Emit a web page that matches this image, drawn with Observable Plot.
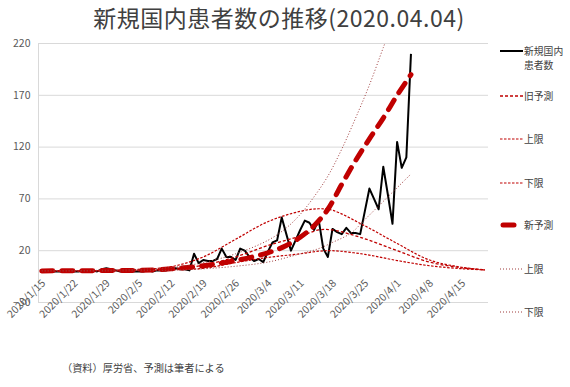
<!DOCTYPE html>
<html><head><meta charset="utf-8">
<script src="https://cdn.jsdelivr.net/npm/d3@7"></script>
<script src="https://cdn.jsdelivr.net/npm/@observablehq/plot@0.6"></script>
<style>
body{margin:0;background:#fff;font-family:"Noto Sans CJK JP","Noto Sans",sans-serif;}
#wrap{position:relative;width:570px;height:387px;overflow:hidden;background:#fff;}
#chart{position:absolute;left:0;top:0;}
#title{position:absolute;left:0;top:3px;width:558px;text-align:center;font-size:23px;letter-spacing:0.5px;line-height:28px;color:#404040;white-space:nowrap;}
#note{position:absolute;left:62px;top:362px;font-size:10.2px;line-height:12px;color:#404040;white-space:nowrap;}
.lg{position:absolute;left:500px;height:12px;}
.lgt{position:absolute;left:524px;font-size:9.8px;line-height:14px;color:#404040;white-space:nowrap;}
</style></head><body>
<div id="wrap"><div id="chart"></div><div id="title">新規国内患者数の推移(2020.04.04)</div><div id="legend"></div><div id="note">（資料）厚労省、予測は筆者による</div></div>
<script>
// ---- data ----
const titleText = "新規国内患者数の推移(2020.04.04)";
const yTicks = [-30, 20, 70, 120, 170, 220];
const xTickLabels = ["2020-01-15","2020-01-22","2020-01-29","2020-02-05","2020-02-12","2020-02-19","2020-02-26","2020-03-04","2020-03-11","2020-03-18","2020-03-25","2020-04-01","2020-04-08","2020-04-15"];
const legendLabels = ["新規国内\n患者数","旧予測","上限","下限","新予測","上限","下限"];

// actual daily new domestic cases, from 2020-01-15 to 2020-04-04
const actualStart = "2020-01-15";
const actualValues = [
 1,0,0,0,0,0,0,0,0,1, 1,1,0,2,3,2,1,0,0,1,
 0,0,0,1,0,1,1,1,2,3, 2,2,1,17,8,11,10,10,12,22,
 14,14,11,22,20,14,10,12,9,19, 28,30,52,36,20,30,40,49,47,40,
 50,22,14,41,38,36,42,37,37,36, 58,80,70,60,101,74,46,125,100,110,
 210];

// old forecast (旧予測) and its bounds
const oldDates = ["2020-01-15","2020-01-29","2020-02-05","2020-02-12","2020-02-19","2020-02-26","2020-03-04","2020-03-11","2020-03-15","2020-03-18","2020-03-25","2020-04-01","2020-04-08","2020-04-15","2020-04-20"];
const oldMid   = [0.5,0.8,1.2,2.5,6,14,25,34,40,40,31.5,20,9,3.5,1.5];
const oldUpper = [0.5,1,2,4.5,14,31,48,58,60.5,59,44,27,11,4,1.5];
const oldLower = [0.3,0.5,0.8,1.5,3,8.5,13.5,17,19.5,20,16.5,10.5,5.5,2.6,1.5];

// new forecast (新予測)
const newDates = ["2020-01-15","2020-01-22","2020-01-29","2020-02-05","2020-02-12","2020-02-19","2020-02-26","2020-03-04","2020-03-08","2020-03-11","2020-03-14","2020-03-17","2020-03-20","2020-03-23","2020-03-26","2020-03-29","2020-04-01","2020-04-04"];
const newMid = [0.5,0.6,0.8,1,2.5,5.5,10.5,18,25,33,44,60,84,107,128,148,170,190];
// new forecast upper bound
const newUpperDates = ["2020-01-15","2020-01-29","2020-02-12","2020-02-19","2020-02-26","2020-03-04","2020-03-08","2020-03-11","2020-03-14","2020-03-17","2020-03-20","2020-03-23","2020-03-26","2020-03-29","2020-03-31"];
const newUpper = [0.7,1.2,3.8,8.5,17,30,42,55,72,92,118,148,180,216,240];
// new forecast lower bound
const newLowerDates = ["2020-01-15","2020-01-29","2020-02-12","2020-02-19","2020-02-26","2020-03-04","2020-03-11","2020-03-15","2020-03-18","2020-03-22","2020-03-25","2020-03-30","2020-04-04"];
const newLower = [0.3,0.4,1.2,2.5,5,9,17,22,28,37,50,72,94];

// ---- build ----
const DAY = 864e5;
const parse = s => new Date(s + "T00:00:00Z");
const t0 = +parse(actualStart);
const actual = actualValues.map((v, i) => ({date: new Date(t0 + i * DAY), value: v}));
const ser = (dates, vals) => dates.map((d, i) => ({date: parse(d), value: vals[i]}));
const xTicks = xTickLabels.map(parse);
const fmt = d => `${d.getUTCFullYear()}/${d.getUTCMonth() + 1}/${d.getUTCDate()}`;
const xDomain = [new Date(t0 - 0.7 * DAY), new Date(t0 + 96.8 * DAY)];

const red = "#C00000", dotCol = "#9E3A3A";
const styles = [
  {stroke: "#000", strokeWidth: 2, dash: null},
  {stroke: red, strokeWidth: 1.3, dash: "3,2"},
  {stroke: red, strokeWidth: 1.2, dash: "2.5,1.5"},
  {stroke: red, strokeWidth: 1.2, dash: "2.5,1.5"},
  {stroke: red, strokeWidth: 5, dash: "11,9", cap: "round"},
  {stroke: dotCol, strokeWidth: 1, dash: "1,2"},
  {stroke: dotCol, strokeWidth: 1, dash: "1,2"}
];
const seriesData = [
  actual,
  ser(oldDates, oldMid), ser(oldDates, oldUpper), ser(oldDates, oldLower),
  ser(newDates, newMid), ser(newUpperDates, newUpper), ser(newLowerDates, newLower)
];
const lineMarks = seriesData.map((data, k) => Plot.line(data, {
  x: "date", y: "value",
  stroke: styles[k].stroke, strokeWidth: styles[k].strokeWidth,
  strokeDasharray: styles[k].dash || undefined,
  strokeLinecap: styles[k].cap || "butt",
  curve: k === 0 ? "linear" : "catmull-rom",
  clip: true
}));

const chart = Plot.plot({
  width: 570, height: 387,
  marginLeft: 38, marginRight: 82, marginTop: 43, marginBottom: 85,
  style: {fontFamily: '"Noto Sans CJK JP","Noto Sans",sans-serif', fontSize: "10.5px", color: "#595959", background: "transparent"},
  x: {type: "utc", domain: xDomain, axis: null},
  y: {domain: [-30, 220], axis: null},
  marks: [
    Plot.ruleY(yTicks, {stroke: "#d9d9d9", strokeWidth: 1}),
    Plot.ruleX([xDomain[0]], {stroke: "#d9d9d9", strokeWidth: 1}),
    Plot.axisY({ticks: yTicks, tickSize: 0, tickPadding: 8, label: null, fill: "#595959"}),
    ...lineMarks,
    Plot.text(xTicks, {x: d => d, y: () => 0, text: fmt, rotate: -45, textAnchor: "end", lineAnchor: "middle", dx: 2, dy: 10, fill: "#595959", fontSize: 10.5})
  ]
});
document.getElementById("chart").appendChild(chart);

// legend
const lgY = [51, 96, 139, 183, 225, 269, 312];
const legend = document.getElementById("legend");
legendLabels.forEach((lab, k) => {
  const s = styles[k];
  const sv = document.createElementNS("http://www.w3.org/2000/svg", "svg");
  sv.setAttribute("class", "lg");
  sv.setAttribute("width", 24); sv.setAttribute("height", 12);
  sv.style.top = (lgY[k] - 6) + "px";
  const ln = document.createElementNS("http://www.w3.org/2000/svg", "line");
  const pad = s.cap ? 3 : 0;
  ln.setAttribute("x1", pad); ln.setAttribute("x2", 23 - pad);
  ln.setAttribute("y1", 6); ln.setAttribute("y2", 6);
  ln.setAttribute("stroke", s.stroke); ln.setAttribute("stroke-width", s.strokeWidth);
  if (s.dash) ln.setAttribute("stroke-dasharray", s.dash);
  if (s.cap) ln.setAttribute("stroke-linecap", s.cap);
  sv.appendChild(ln);
  legend.appendChild(sv);
  const tx = document.createElement("div");
  tx.className = "lgt";
  tx.style.top = (lgY[k] - 7) + "px";
  tx.innerHTML = lab.split("\n").join("<br>");
  legend.appendChild(tx);
});
</script>
</body></html>
